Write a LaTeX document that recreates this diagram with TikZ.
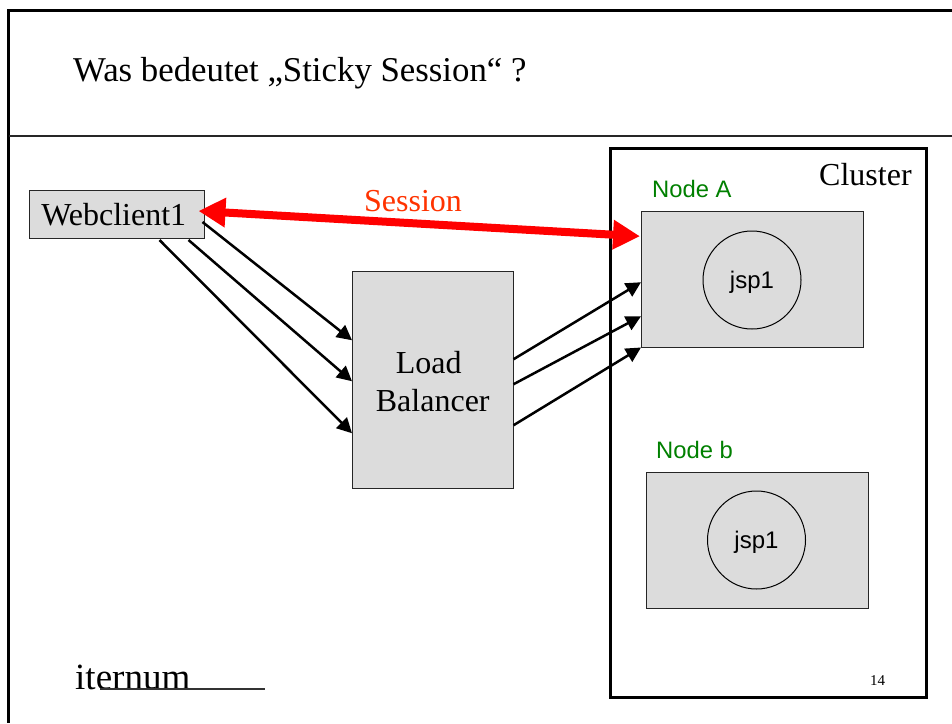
\documentclass[tikz,border=0pt]{standalone}
\usepackage{fontspec}
\setmainfont{Liberation Serif}
\newfontfamily\arialf{Liberation Sans}
\usetikzlibrary{arrows.meta}
\definecolor{boxgray}{HTML}{DCDCDC}
\definecolor{nodegreen}{HTML}{008000}
\definecolor{sessred}{HTML}{FF3300}
\tikzset{
  x=1pt,y=-1pt,
  frameline/.style={draw=black,line width=3pt},
  boxshape/.style={draw=black!85,fill=boxgray,line width=1pt,rectangle,inner sep=0pt,anchor=north west},
  jspcircle/.style={draw=black,line width=1pt,circle,minimum size=98pt,inner sep=0pt,font=\arialf\fontsize{24}{28}\selectfont},
  serifbig/.style={font=\fontsize{32}{38}\selectfont,inner sep=0pt},
  greenlabel/.style={text=nodegreen,font=\arialf\fontsize{23.8}{28}\selectfont,inner sep=0pt,anchor=base west},
  flow/.style={draw=black,line width=2.5pt,-{Triangle[length=15pt,width=15pt]}},
  sessarrow/.style={draw=red,line width=8pt,{Triangle[length=27pt,width=28pt]}-{Triangle[length=27pt,width=28pt]}},
}
\begin{document}
\begin{tikzpicture}
\useasboundingbox (0,0) rectangle (952,723);
\fill[white] (0,0) rectangle (952,723);
\draw[frameline] (952,10.5) -- (8.5,10.5) -- (8.5,723);
\draw[black!85,line width=2pt] (8.5,136) -- (952,136);
\node[inner sep=0pt,anchor=base west,font=\fontsize{34.8}{40}\selectfont] (title) at (73,81) {Was bedeutet „Sticky Session“ ?};
\node[draw=black,line width=3pt,rectangle,anchor=north west,minimum width=316pt,minimum height=549pt,inner sep=0pt] (cluster) at (609,147) {};
\node[serifbig,anchor=base west] (clusterlabel) at (819,185) {Cluster};
\node[boxshape,minimum width=174.5pt,minimum height=48pt,serifbig] (wc) at (29,190) {Webclient1\hspace*{6pt}};
\node[boxshape,minimum width=160.5pt,minimum height=216.5pt,serifbig,align=center] (lb) at (352,271) {\rule{0pt}{25pt}Load\hspace*{8pt}\\Balancer};
\node[boxshape,minimum width=221.5pt,minimum height=135.5pt] (na) at (641,211) {};
\node[boxshape,minimum width=221.5pt,minimum height=135.5pt] (nb) at (646,472) {};
\node[greenlabel] (nalabel) at (652,197) {Node A};
\node[greenlabel] (nblabel) at (656,458) {Node b};
\node[jspcircle] (ja) at (752,280) {\rule{0pt}{22pt}jsp1};
\node[jspcircle] (jb) at (756.5,540) {\rule{0pt}{22pt}jsp1};
\node[serifbig,text=sessred,anchor=base west] (sess) at (364,211) {Session};
\node[inner sep=0pt,anchor=base west,font=\fontsize{37}{40}\selectfont] (logo) at (75,689) {iternum};
\coordinate (logostart) at (100,689);
\coordinate (logoline) at (265,689);
\draw[black!80,line width=1.5pt] (logostart) -- (logoline);
\node[inner sep=0pt,anchor=base west,font=\fontsize{15}{18}\selectfont] (pg) at (870,685) {14};
% client to balancer
\draw[flow] ([shift={(-2,32)}]wc.north east) -- ([shift={(0,-39.5)}]lb.west);
\draw[flow] ([shift={(-16,1)}]wc.south east) -- ([shift={(0,1.5)}]lb.west);
\draw[flow] ([shift={(-45,1)}]wc.south east) -- ([shift={(0,53.5)}]lb.west);
% balancer to node A
\draw[flow] ([shift={(0,-20.5)}]lb.east) -- ([shift={(0,3)}]na.west);
\draw[flow] ([shift={(0,4.5)}]lb.east) -- ([shift={(0,37)}]na.west);
\draw[flow] ([shift={(0,45.5)}]lb.east) -- (na.south west);
% session
\draw[sessarrow] ([shift={(-6,21)}]wc.north east) -- ([shift={(-1,-43)}]na.west);
\end{tikzpicture}
\end{document}
